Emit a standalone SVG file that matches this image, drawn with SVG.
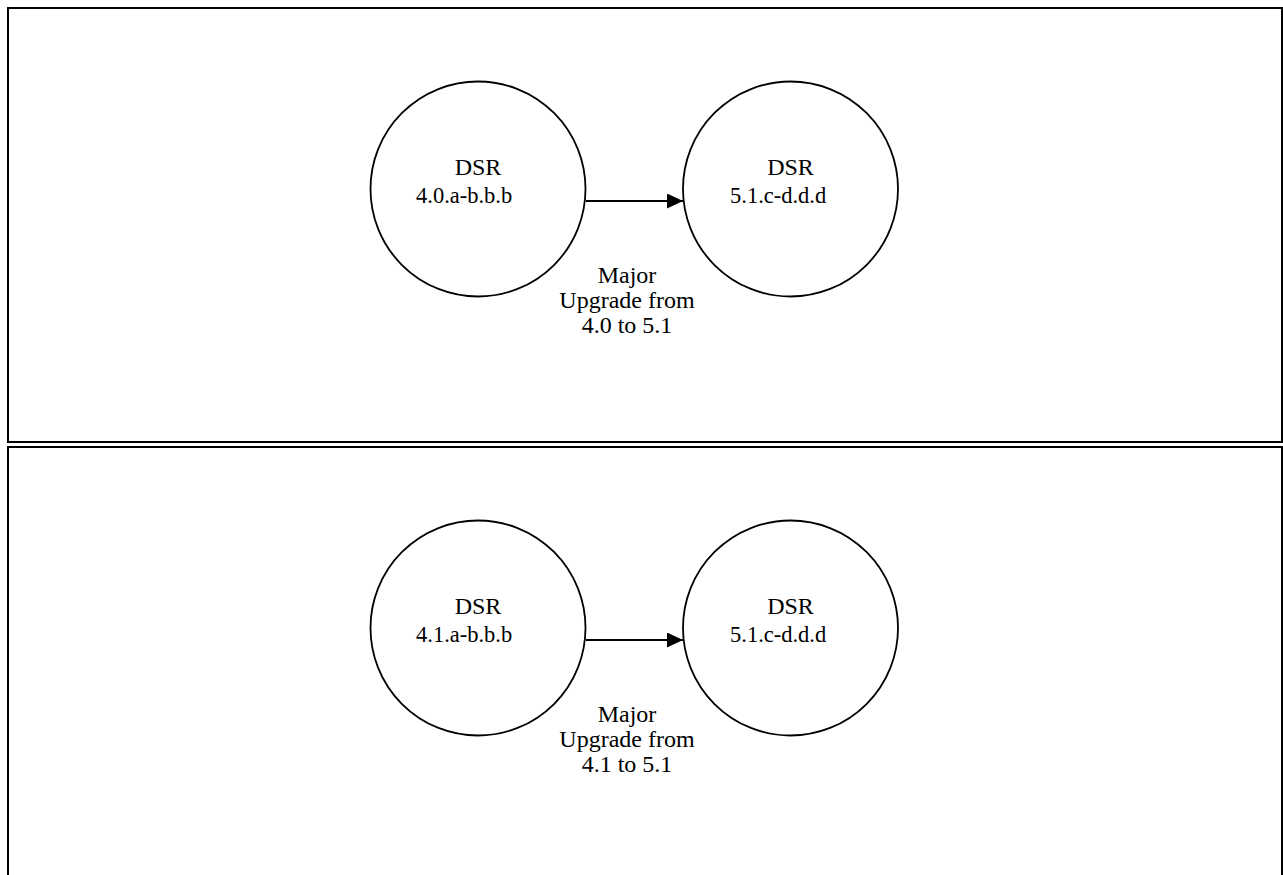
<svg xmlns="http://www.w3.org/2000/svg" width="1283" height="875" viewBox="0 0 1283 875">
<defs>
<style>
.panel{fill:#fff;stroke:#000;stroke-width:2}
.node{fill:#fff;stroke:#000;stroke-width:1.8}
.t1{font-family:"Liberation Serif","Times New Roman",serif;font-size:24px;fill:#000;text-anchor:middle}
.t2{font-family:"Liberation Serif","Times New Roman",serif;font-size:22.5px;fill:#000;text-anchor:start}
.lbl{font-family:"Liberation Serif","Times New Roman",serif;font-size:24px;fill:#000;text-anchor:middle}
.edge{stroke:#000;stroke-width:2.2;fill:none}
</style>
<marker id="arr" markerWidth="16" markerHeight="16" refX="16" refY="7.5" orient="auto" markerUnits="userSpaceOnUse">
<path d="M0,0 L16,7.5 L0,15 Z" fill="#000"/>
</marker>
</defs>
<rect width="1283" height="875" fill="#fff"/>
<rect class="panel" x="8" y="8" width="1274" height="434"/>
<rect class="panel" x="8" y="447" width="1274" height="440"/>

<g id="n1">
<circle class="node" cx="478" cy="189" r="107.5"/>
<text class="t1" x="478" y="175">DSR</text>
<text class="t2" x="416" y="203">4.0.a-b.b.b</text>
</g>
<g id="n2">
<circle class="node" cx="790.5" cy="189" r="107.5"/>
<text class="t1" x="790.5" y="175">DSR</text>
<text class="t2" x="730" y="203">5.1.c-d.d.d</text>
</g>
<g id="n3">
<circle class="node" cx="478" cy="628" r="107.5"/>
<text class="t1" x="478" y="614">DSR</text>
<text class="t2" x="416" y="642">4.1.a-b.b.b</text>
</g>
<g id="n4">
<circle class="node" cx="790.5" cy="628" r="107.5"/>
<text class="t1" x="790.5" y="614">DSR</text>
<text class="t2" x="730" y="642">5.1.c-d.d.d</text>
</g>

<g id="connectors">
<line class="edge" x1="586" y1="201" x2="683" y2="201" marker-end="url(#arr)"/>
<line class="edge" x1="586" y1="640" x2="683" y2="640" marker-end="url(#arr)"/>
<text class="lbl" x="627" y="283">Major</text>
<text class="lbl" x="627" y="308">Upgrade from</text>
<text class="lbl" x="627" y="333">4.0 to 5.1</text>
<text class="lbl" x="627" y="722">Major</text>
<text class="lbl" x="627" y="747">Upgrade from</text>
<text class="lbl" x="627" y="772">4.1 to 5.1</text>
</g>
</svg>
